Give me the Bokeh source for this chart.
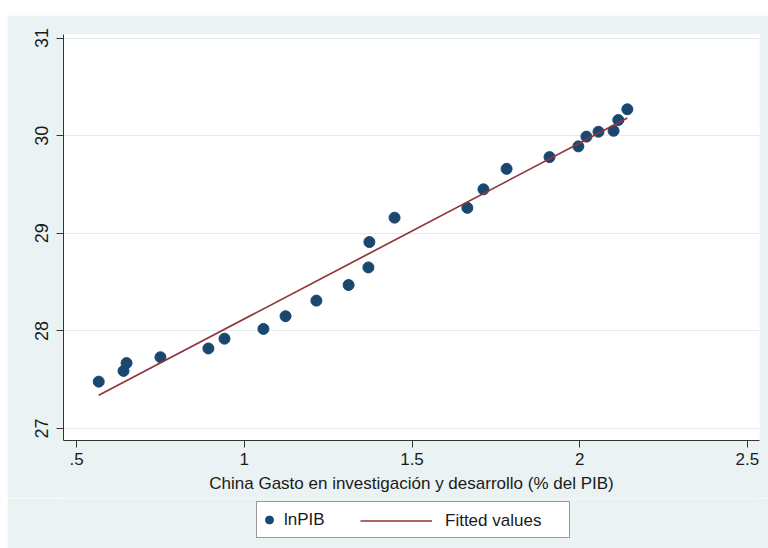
from bokeh.plotting import figure
from bokeh.models import FixedTicker, Legend, LegendItem, Range1d, Spacer
from bokeh.layouts import column, row
from bokeh.embed import file_html
from bokeh.resources import INLINE

# China: R&D expenditure (% of GDP) vs ln(GDP)
rd_gdp = [0.566, 0.640, 0.649, 0.750, 0.893, 0.941, 1.057, 1.123, 1.215, 1.311,
          1.370, 1.373, 1.448, 1.665, 1.713, 1.782, 1.910, 1.996, 2.020, 2.056,
          2.101, 2.115, 2.142]
ln_pib = [27.48, 27.59, 27.67, 27.73, 27.82, 27.92, 28.02, 28.15, 28.31, 28.47,
          28.65, 28.91, 29.16, 29.26, 29.45, 29.66, 29.78, 29.89, 29.99, 30.04,
          30.05, 30.16, 30.27]
fit_x = [0.566, 2.142]
fit_y = [27.34, 30.18]

x_ticks = [0.5, 1, 1.5, 2, 2.5]
x_tick_labels = [".5", "1", "1.5", "2", "2.5"]
y_ticks = [27, 28, 29, 30, 31]

FONT = "Liberation Sans"
NAVY = "#1a476f"
MAROON = "#90353b"
BG = "#eaf2f3"
TXT = "#1a1a1a"

p = figure(width=761, height=483, output_backend="svg", toolbar_location=None,
           x_range=Range1d(0.461, 2.536), y_range=Range1d(26.877, 31.036),
           min_border_left=56, min_border_right=9, min_border_top=19,
           min_border_bottom=58, background_fill_color="white",
           border_fill_color=BG, outline_line_color=None)

p.scatter(rd_gdp, ln_pib, size=11, color=NAVY, line_color=NAVY)
p.line(fit_x, fit_y, line_color=MAROON, line_width=1.7)

# axes
p.xaxis.ticker = FixedTicker(ticks=x_ticks)
p.xaxis.major_label_overrides = {float(t): l for t, l in zip(x_ticks, x_tick_labels)}
p.yaxis.ticker = FixedTicker(ticks=y_ticks)
p.yaxis.major_label_orientation = "vertical"
for ax in (p.xaxis[0], p.yaxis[0]):
    ax.axis_line_color = "#333333"
    ax.major_tick_line_color = "#333333"
    ax.major_tick_out = 7
    ax.major_tick_in = 0
    ax.minor_tick_line_color = None
    ax.major_label_text_font = FONT
    ax.major_label_text_font_size = "17px"
    ax.major_label_text_color = TXT
p.yaxis.major_label_text_font_size = "18px"
p.xaxis.major_label_standoff = 5
p.yaxis.major_label_standoff = 8
p.xaxis.axis_label = "China Gasto en investigación y desarrollo (% del PIB)"
p.xaxis.axis_label_text_font = FONT
p.xaxis.axis_label_text_font_size = "17px"
p.xaxis.axis_label_text_font_style = "normal"
p.xaxis.axis_label_text_color = TXT
p.xaxis.axis_label_standoff = 6

p.xgrid.grid_line_color = None
p.ygrid.ticker = FixedTicker(ticks=y_ticks)
p.ygrid.grid_line_color = "#e3eaed"
p.ygrid.grid_line_width = 1

# legend strip below the chart (its frame is aligned with the chart's frame);
# the key renderers use the series but lie outside this strip's ranges
q = figure(width=761, height=50, output_backend="svg", toolbar_location=None,
           x_axis_type=None, y_axis_type=None, min_border=0,
           x_range=Range1d(-10, -9), y_range=Range1d(-10, -9),
           background_fill_color=BG, border_fill_color=BG, outline_line_color=None)
q.xgrid.grid_line_color = None
q.ygrid.grid_line_color = None
lg_sc = q.scatter(rd_gdp, ln_pib, size=9, color=NAVY, line_color=NAVY)
lg_ln = q.line(fit_x, fit_y, line_color=MAROON, line_width=1.7)

leg_a = Legend(items=[LegendItem(label="lnPIB", renderers=[lg_sc])],
               location=(193, 10), orientation="horizontal",
               glyph_width=20, glyph_height=31, label_standoff=5,
               label_width=283, padding=2, margin=0, spacing=0,
               border_line_color="#333333", border_line_width=1,
               background_fill_color="white", background_fill_alpha=1,
               label_text_font=FONT, label_text_font_size="17px",
               label_text_color=TXT)
leg_b = Legend(items=[LegendItem(label="Fitted values", renderers=[lg_ln])],
               location=(297, 10), orientation="horizontal",
               glyph_width=72, glyph_height=35, label_standoff=13,
               padding=0, margin=0, spacing=0,
               border_line_color=None, background_fill_alpha=0,
               label_text_font=FONT, label_text_font_size="17px",
               label_text_color=TXT)
q.add_layout(leg_a, "center")
q.add_layout(leg_b, "center")

layout = row(Spacer(width=7, height=548),
             column(Spacer(width=761, height=15), p, q))
open("out.html", "w").write(file_html(layout, INLINE))
